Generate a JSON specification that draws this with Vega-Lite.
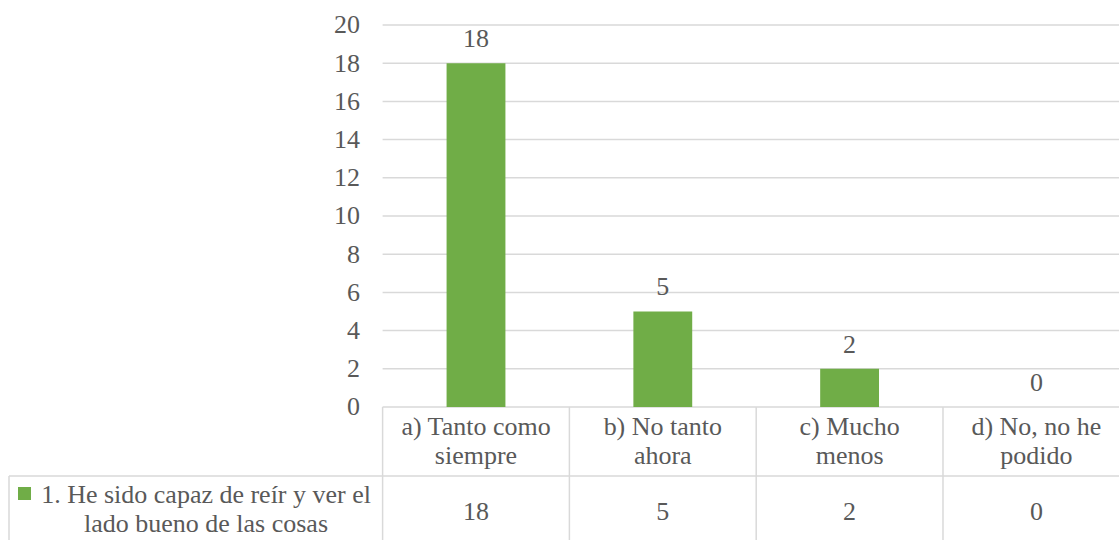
{
  "$schema": "https://vega.github.io/schema/vega-lite/v6.json",
  "width": 1307.6,
  "height": 523.3,
  "autosize": {"type": "none"},
  "padding": {"left": 9, "top": 25, "right": 0, "bottom": 0},
  "background": "white",
  "config": {
    "view": {"stroke": null},
    "axisX": {"disable": true},
    "text": {"font": "'Liberation Serif', 'DejaVu Serif', serif", "fontSize": 26, "fill": "#595959"}
  },
  "data": {
    "values": [
      {"cat": "a) Tanto como siempre", "label": "a) Tanto como\nsiempre", "value": 18},
      {"cat": "b) No tanto ahora", "label": "b) No tanto\nahora", "value": 5},
      {"cat": "c) Mucho menos", "label": "c) Mucho\nmenos", "value": 2},
      {"cat": "d) No, no he podido", "label": "d) No, no he\npodido", "value": 0}
    ]
  },
  "layer": [
    {
      "data": {"values": [{"v": 0}, {"v": 2}, {"v": 4}, {"v": 6}, {"v": 8}, {"v": 10}, {"v": 12}, {"v": 14}, {"v": 16}, {"v": 18}, {"v": 20}]},
      "mark": {"type": "rule", "color": "#d9d9d9", "strokeWidth": 1.5},
      "encoding": {
        "x": {
          "datum": "a) Tanto como siempre",
          "type": "nominal",
          "bandPosition": 0,
          "scale": {
            "type": "band",
            "domain": ["_l1", "_l2", "a) Tanto como siempre", "b) No tanto ahora", "c) Mucho menos", "d) No, no he podido", "_end"],
            "paddingInner": 0,
            "paddingOuter": 0
          },
          "axis": null
        },
        "x2": {"datum": "_end", "bandPosition": 0},
        "y": {
          "field": "v",
          "type": "quantitative",
          "scale": {"domain": [-7.4, 20], "nice": false, "zero": false},
          "axis": {
            "values": [0, 2, 4, 6, 8, 10, 12, 14, 16, 18, 20],
            "domain": false,
            "ticks": false,
            "grid": false,
            "offset": -373.6,
            "labelPadding": 23,
            "labelFont": "'Liberation Serif', 'DejaVu Serif', serif",
            "labelFontSize": 26,
            "labelColor": "#595959",
            "title": null
          }
        }
      }
    },
    {
      "mark": {"type": "bar", "color": "#70AD47", "width": {"band": 0.315}},
      "encoding": {
        "x": {"field": "cat", "type": "nominal", "axis": null},
        "y": {"field": "value", "type": "quantitative"}
      }
    },
    {
      "mark": {"type": "text", "baseline": "alphabetic", "align": "center", "dy": -16},
      "encoding": {
        "x": {"field": "cat", "type": "nominal", "axis": null},
        "y": {"field": "value", "type": "quantitative"},
        "text": {"field": "value", "type": "quantitative"}
      }
    },
    {
      "mark": {"type": "text", "baseline": "alphabetic", "align": "center", "lineBreak": "\n", "lineHeight": 29},
      "encoding": {
        "x": {"field": "cat", "type": "nominal", "axis": null},
        "y": {"datum": -1.466, "type": "quantitative"},
        "text": {"field": "label", "type": "nominal"}
      }
    },
    {
      "mark": {"type": "text", "baseline": "alphabetic", "align": "center"},
      "encoding": {
        "x": {"field": "cat", "type": "nominal", "axis": null},
        "y": {"datum": -5.92, "type": "quantitative"},
        "text": {"field": "value", "type": "quantitative"}
      }
    },
    {
      "mark": {"type": "rule", "color": "#d9d9d9", "strokeWidth": 1.5},
      "encoding": {
        "x": {"field": "cat", "type": "nominal", "bandPosition": 0, "axis": null},
        "y": {"datum": 0, "type": "quantitative"},
        "y2": {"datum": -7.4}
      }
    },
    {
      "data": {"values": [{}]},
      "mark": {"type": "rule", "color": "#d9d9d9", "strokeWidth": 1.5},
      "encoding": {
        "x": {"datum": "_l1", "type": "nominal", "bandPosition": 0, "axis": null},
        "x2": {"datum": "_end", "bandPosition": 0},
        "y": {"datum": -3.61, "type": "quantitative"}
      }
    },
    {
      "data": {"values": [{}]},
      "mark": {"type": "rule", "color": "#d9d9d9", "strokeWidth": 1.5},
      "encoding": {
        "x": {"datum": "_l1", "type": "nominal", "bandPosition": 0, "axis": null},
        "y": {"datum": -3.61, "type": "quantitative"},
        "y2": {"datum": -7.4}
      }
    },
    {
      "data": {"values": [{"series": "1. He sido capaz de reír y ver el lado bueno de las cosas"}]},
      "mark": {"type": "point", "shape": "square", "filled": true, "size": 169, "color": "#70AD47", "opacity": 1},
      "encoding": {
        "x": {"datum": "_l1", "type": "nominal", "bandPosition": 0.083, "axis": null},
        "y": {"datum": -4.53, "type": "quantitative"}
      }
    },
    {
      "data": {"values": [{"series": "1. He sido capaz de reír y ver el\nlado bueno de las cosas"}]},
      "mark": {"type": "text", "baseline": "alphabetic", "align": "center", "lineBreak": "\n", "lineHeight": 29},
      "encoding": {
        "x": {"datum": "_l2", "type": "nominal", "bandPosition": 0.055, "axis": null},
        "y": {"datum": -5.04, "type": "quantitative"},
        "text": {"field": "series", "type": "nominal"}
      }
    }
  ]
}
